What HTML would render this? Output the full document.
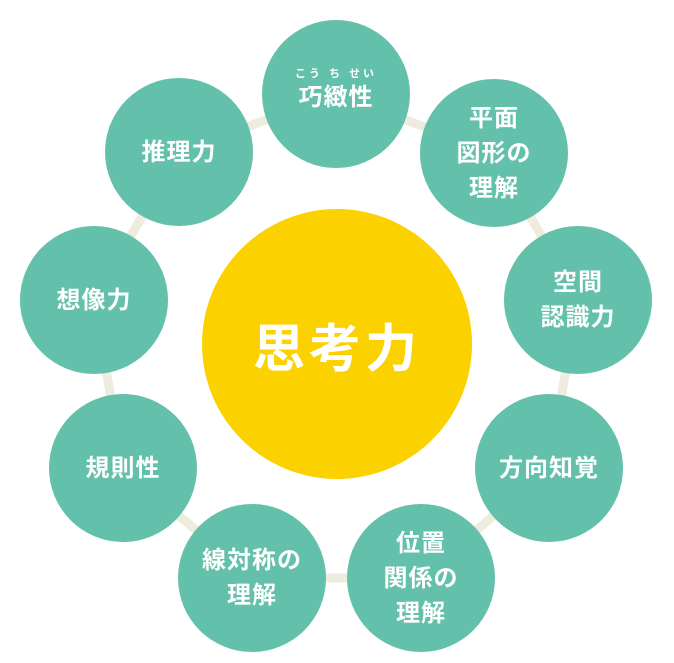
<!DOCTYPE html>
<html><head><meta charset="utf-8"><style>
html,body{margin:0;padding:0;background:#fff;}
body{width:674px;height:663px;position:relative;overflow:hidden;font-family:"Liberation Sans","Noto Sans CJK JP",sans-serif;}
svg{position:absolute;left:0;top:0;}
.c{position:absolute;width:148px;height:148px;border-radius:50%;background:#63c0aa;color:#fff;display:flex;align-items:center;justify-content:center;text-align:center;font-weight:bold;font-size:24px;line-height:35px;letter-spacing:1px;}
.y{position:absolute;left:202px;top:209px;width:270px;height:270px;border-radius:50%;background:#fcd100;color:#fff;display:flex;align-items:center;justify-content:center;font-size:52px;font-weight:bold;letter-spacing:4px;}
</style></head><body>
<svg width="674" height="663"><polygon points="336,94 494,153 578,300 549,468 421,578 252,578 123,468 94,300 179,152" fill="none" stroke="#eeebdf" stroke-width="9"/></svg>
<div class="y">思考力</div>
<div class="c" style="left:262px;top:20px;"><div><div style="font-size:11px;line-height:12px;letter-spacing:3px;margin-top:-6px">こう ち せい</div>巧緻性</div></div>
<div class="c" style="left:420px;top:79px;">平面<br>図形の<br>理解</div>
<div class="c" style="left:504px;top:226px;">空間<br>認識力</div>
<div class="c" style="left:475px;top:394px;">方向知覚</div>
<div class="c" style="left:347px;top:504px;">位置<br>関係の<br>理解</div>
<div class="c" style="left:178px;top:504px;">線対称の<br>理解</div>
<div class="c" style="left:49px;top:394px;">規則性</div>
<div class="c" style="left:20px;top:226px;">想像力</div>
<div class="c" style="left:105px;top:78px;">推理力</div>
</body></html>
